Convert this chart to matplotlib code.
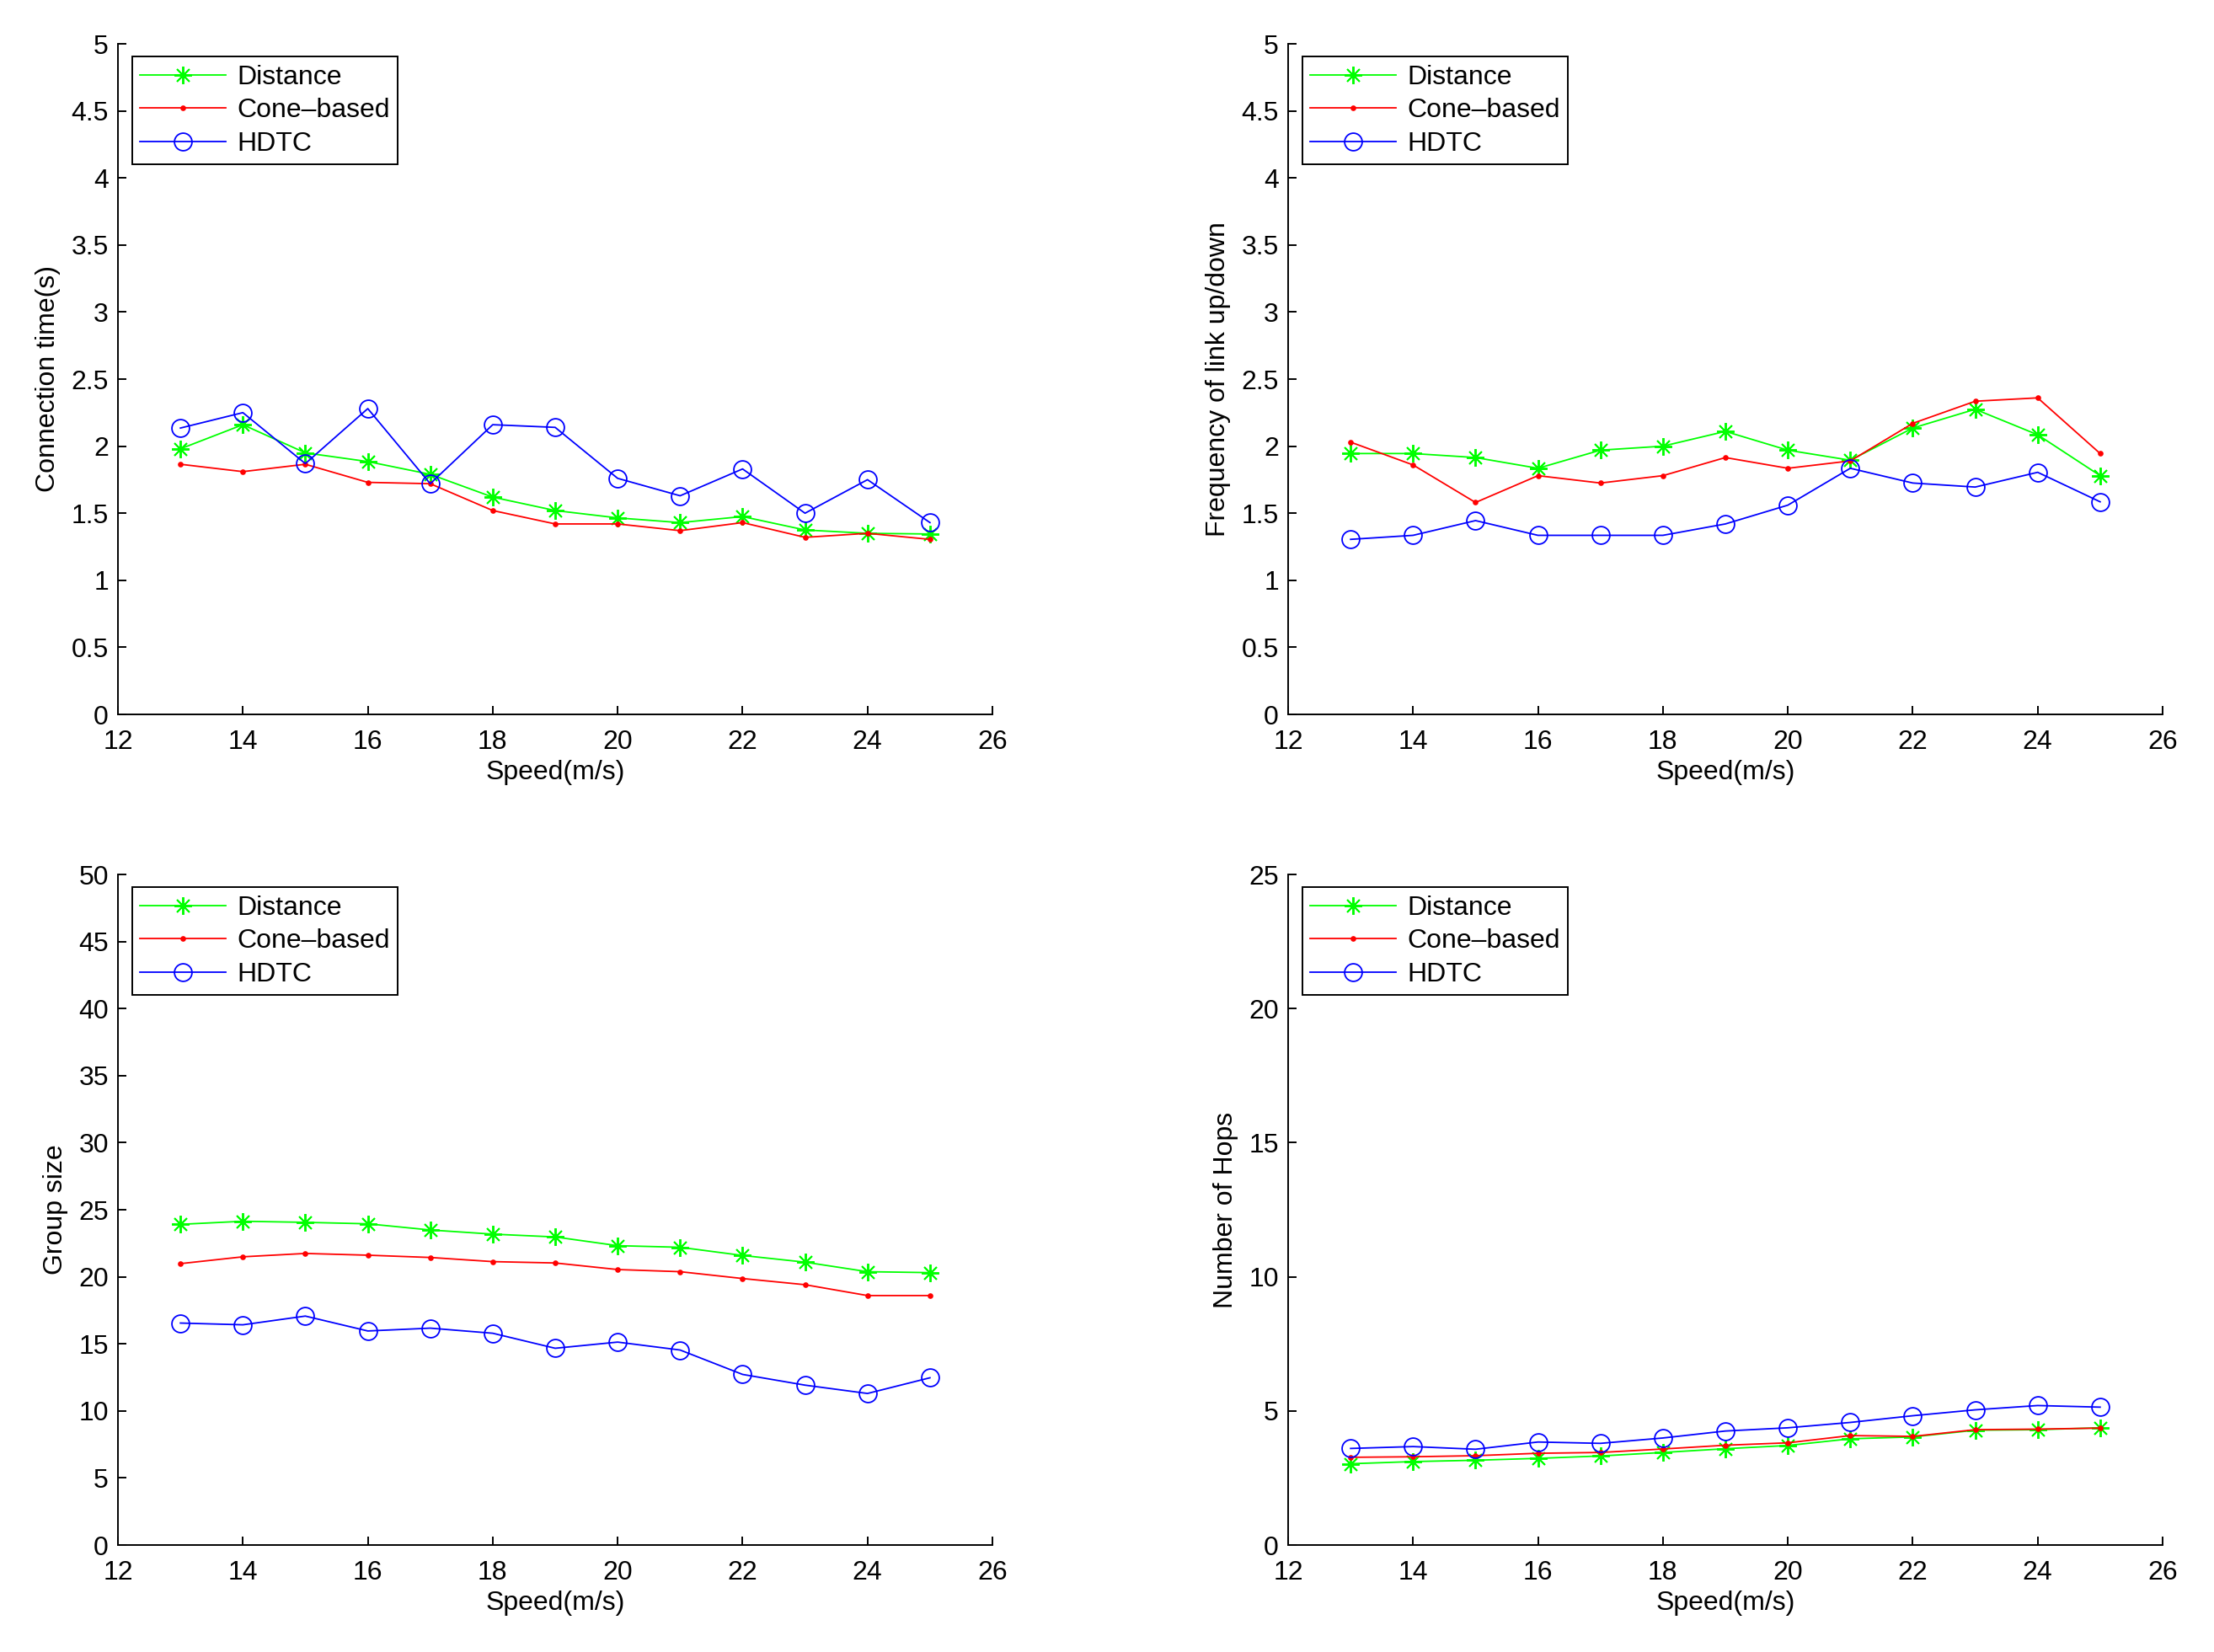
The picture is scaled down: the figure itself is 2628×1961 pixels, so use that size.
import matplotlib
matplotlib.use("Agg")
import matplotlib.pyplot as plt
from matplotlib.ticker import FormatStrFormatter, MultipleLocator

plt.rcParams['font.family'] = ['Liberation Sans', 'DejaVu Sans']
plt.rcParams['font.size'] = 11.5

speed = [13, 14, 15, 16, 17, 18, 19, 20, 21, 22, 23, 24, 25]
labels = ["Distance", "Cone\u2013based", "HDTC"]

conn_distance = [1.98, 2.16, 1.95, 1.885, 1.79, 1.62, 1.52, 1.465, 1.43, 1.475, 1.375, 1.35, 1.345]
conn_cone = [1.865, 1.81, 1.865, 1.73, 1.72, 1.52, 1.42, 1.42, 1.37, 1.43, 1.32, 1.35, 1.305]
conn_hdtc = [2.135, 2.25, 1.87, 2.28, 1.72, 2.16, 2.14, 1.76, 1.63, 1.83, 1.50, 1.75, 1.43]

freq_distance = [1.945, 1.945, 1.915, 1.835, 1.97, 2.0, 2.11, 1.97, 1.895, 2.135, 2.275, 2.085, 1.78]
freq_cone = [2.03, 1.86, 1.58, 1.78, 1.725, 1.78, 1.915, 1.835, 1.89, 2.17, 2.335, 2.36, 1.945]
freq_hdtc = [1.305, 1.335, 1.445, 1.335, 1.335, 1.335, 1.42, 1.56, 1.835, 1.725, 1.695, 1.805, 1.585]

group_distance = [23.91, 24.14, 24.06, 23.95, 23.49, 23.18, 22.97, 22.32, 22.2, 21.59, 21.09, 20.38, 20.31]
group_cone = [20.98, 21.49, 21.74, 21.61, 21.44, 21.13, 21.03, 20.54, 20.38, 19.87, 19.41, 18.6, 18.6]
group_hdtc = [16.55, 16.42, 17.07, 15.96, 16.17, 15.79, 14.67, 15.13, 14.54, 12.72, 11.92, 11.3, 12.47]

hops_distance = [3.03, 3.11, 3.16, 3.23, 3.32, 3.45, 3.59, 3.71, 3.96, 4.03, 4.28, 4.30, 4.37]
hops_cone = [3.27, 3.29, 3.33, 3.42, 3.45, 3.58, 3.72, 3.81, 4.08, 4.05, 4.30, 4.32, 4.36]
hops_hdtc = [3.60, 3.67, 3.57, 3.84, 3.79, 3.99, 4.25, 4.37, 4.57, 4.82, 5.04, 5.20, 5.14]

panels = [
    ("Connection time(s)", (conn_distance, conn_cone, conn_hdtc), 5, 0.5),
    ("Frequency of link up/down", (freq_distance, freq_cone, freq_hdtc), 5, 0.5),
    ("Group size", (group_distance, group_cone, group_hdtc), 50, 5),
    ("Number of Hops", (hops_distance, hops_cone, hops_hdtc), 25, 5),
]

W, H = 2628, 1961
fig = plt.figure(figsize=(W / 200, H / 200), dpi=200)
lefts = [140 / W, 1529 / W]
bottoms = [1 - 848 / H, 1 - 1834 / H]
aw = 1038 / W
ah = 796 / H

for i, (ylab, series, ymax, ystep) in enumerate(panels):
    r, c = divmod(i, 2)
    ax = fig.add_axes([lefts[c], bottoms[r], aw, ah])
    d, cb, hd = series
    ax.plot(speed, d, color=(0, 1, 0), lw=0.65, marker=(8, 2, 0), ms=7.5, mew=0.7, label=labels[0])
    ax.plot(speed, cb, color=(1, 0, 0), lw=0.65, marker='o', ms=2.4, mew=0, label=labels[1])
    ax.plot(speed, hd, color=(0, 0, 1), lw=0.65, marker='o', ms=7.5, mfc='none', mew=0.65, label=labels[2])
    ax.set_xlim(12, 26)
    ax.set_ylim(0, ymax)
    ax.xaxis.set_major_locator(MultipleLocator(2))
    ax.yaxis.set_major_locator(MultipleLocator(ystep))
    ax.yaxis.set_major_formatter(FormatStrFormatter('%g'))
    ax.xaxis.set_major_formatter(FormatStrFormatter('%g'))
    ax.spines['top'].set_visible(False)
    ax.spines['right'].set_visible(False)
    for s in ('left', 'bottom'):
        ax.spines[s].set_linewidth(0.7)
        ax.spines[s].set_color('black')
    ax.tick_params(direction='in', length=3.6, width=0.7, labelsize=11.5)
    ax.tick_params(axis='x', pad=6.5)
    ax.tick_params(axis='y', pad=4)
    ax.set_xlabel("Speed(m/s)", fontsize=11.5, labelpad=2)
    ax.set_ylabel(ylab, fontsize=11.5, labelpad=4.5)
    leg = ax.legend(loc='upper left', bbox_to_anchor=(0.016, 0.981), borderaxespad=0,
                    fancybox=False, framealpha=1, edgecolor='black', fontsize=11.5,
                    handlelength=3.2, handletextpad=0.4, borderpad=0.3, labelspacing=0.3)
    leg.get_frame().set_linewidth(0.7)

fig.savefig("out.png", dpi=200)
